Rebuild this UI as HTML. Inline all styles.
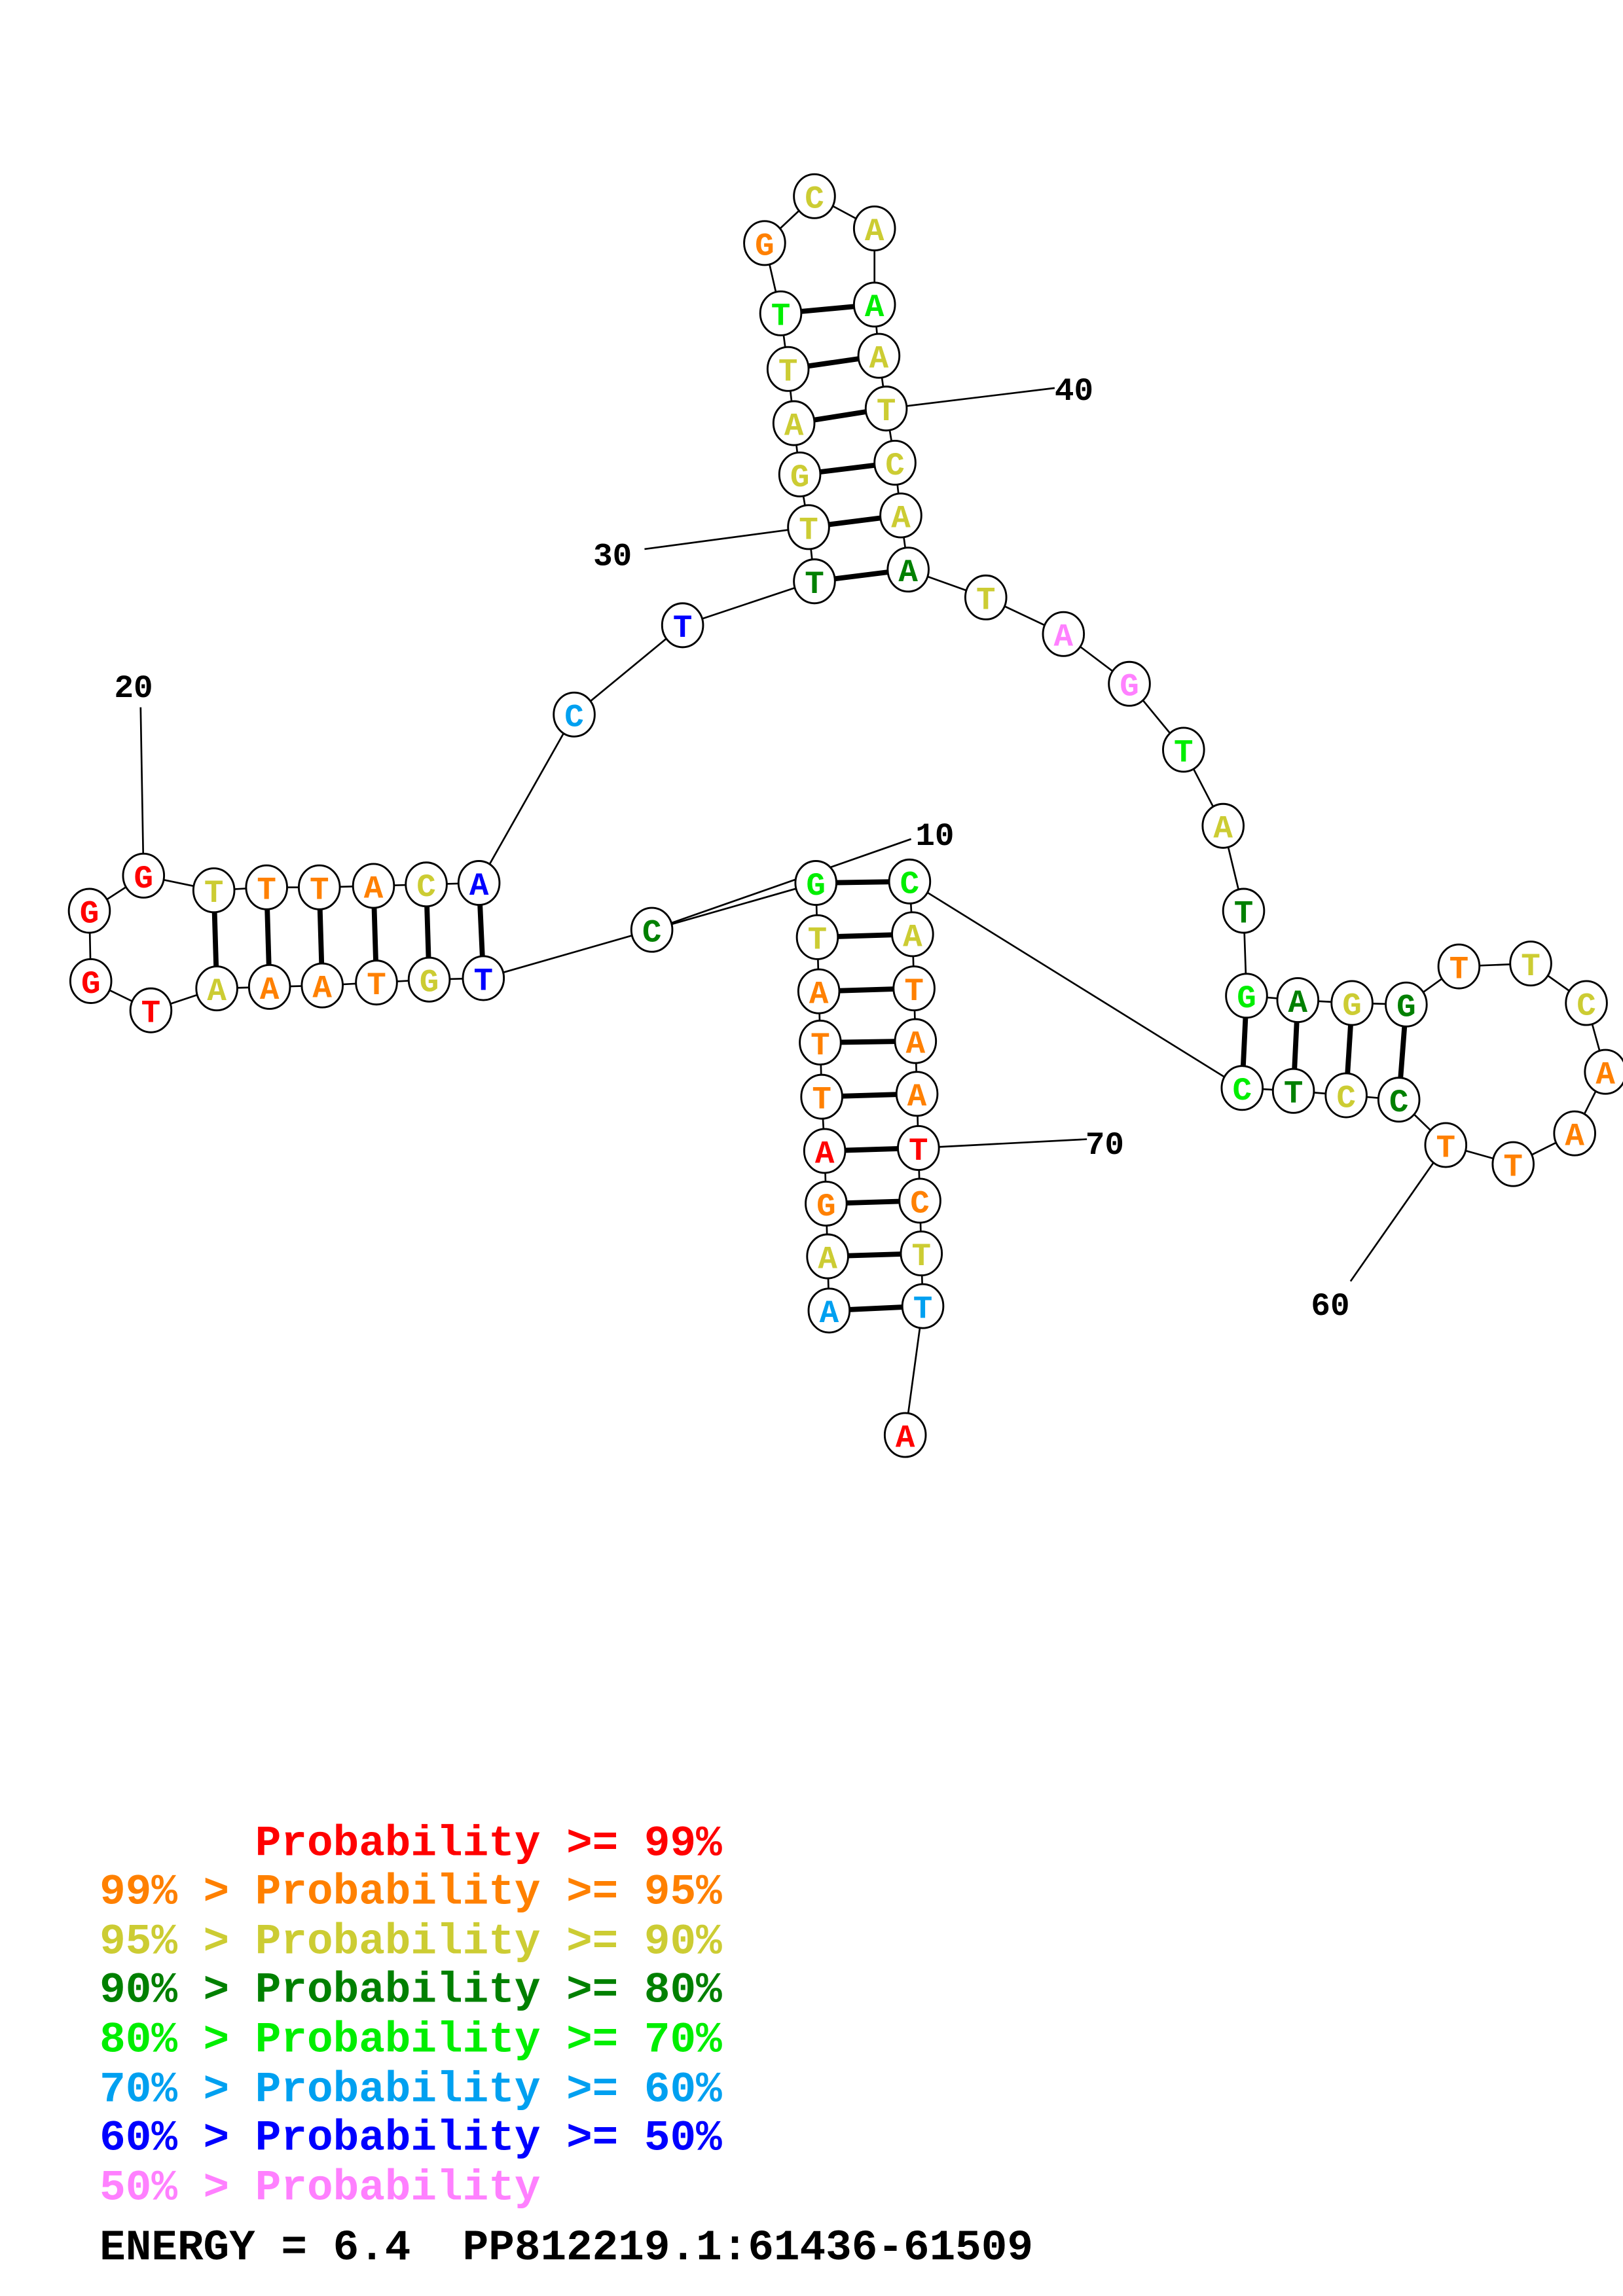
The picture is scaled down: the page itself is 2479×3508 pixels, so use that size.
<!DOCTYPE html>
<html><head><meta charset="utf-8"><style>
html,body{margin:0;padding:0;background:#fff}
svg{display:block}
.n{fill:#fff;stroke:#000;stroke-width:1.3}
.b{font-family:"Liberation Mono",monospace;font-weight:bold;font-size:22px;text-anchor:middle}
.l{font-family:"Liberation Mono",monospace;font-weight:bold;font-size:22px;fill:#000}
.g{font-family:"Liberation Mono",monospace;font-weight:bold;font-size:29.5px;white-space:pre}
</style></head><body>
<svg width="2479" height="3508" viewBox="0 0 1108 1568" preserveAspectRatio="none" xmlns="http://www.w3.org/2000/svg">
<g stroke="#000" fill="none">
<polyline stroke-width="1.2" points="566,895 565,858 564,822 563,786 561,749 560,712 559,677 558,640 557,603 445,635 330,668 293,669 257,671 220,673 184,674 148,675 103,690 62,670 61,622 98,598 146,608 182,606 218,606 255,605 291,604 327,603 392,488 466,427 556,397 552,360 546,324 542,289 538,252 533,214 522,166 556,134 597,156 597,208 600,243 605,279 611,316 615,352 620,389 673,408 726,433 771,467 808,512 835,564 849,622 851,680 886,683 923,685 960,686 996,660 1045,658 1083,685 1096,732 1075,774 1033,795 987,782 955,751 919,748 883,745 848,743 621,602 623,638 624,675 625,711 626,747 627,784 628,820 629,856 630,892 618,980"/>
<g stroke-width="1.2">
<line x1="445" y1="635" x2="622" y2="573"/>
<line x1="96" y1="483" x2="98" y2="598"/>
<line x1="440" y1="375" x2="552" y2="360"/>
<line x1="720" y1="265" x2="605" y2="279"/>
<line x1="922" y1="875" x2="987" y2="782"/>
<line x1="742" y1="778" x2="627" y2="784"/>
</g>
<g stroke-width="3.5">
<line x1="566" y1="895" x2="630" y2="892"/><line x1="565" y1="858" x2="629" y2="856"/><line x1="564" y1="822" x2="628" y2="820"/><line x1="563" y1="786" x2="627" y2="784"/><line x1="561" y1="749" x2="626" y2="747"/><line x1="560" y1="712" x2="625" y2="711"/><line x1="559" y1="677" x2="624" y2="675"/><line x1="558" y1="640" x2="623" y2="638"/><line x1="557" y1="603" x2="621" y2="602"/>
<line x1="330" y1="668" x2="327" y2="603"/><line x1="293" y1="669" x2="291" y2="604"/><line x1="257" y1="671" x2="255" y2="605"/><line x1="220" y1="673" x2="218" y2="606"/><line x1="184" y1="674" x2="182" y2="606"/><line x1="148" y1="675" x2="146" y2="608"/>
<line x1="556" y1="397" x2="620" y2="389"/><line x1="552" y1="360" x2="615" y2="352"/><line x1="546" y1="324" x2="611" y2="316"/><line x1="542" y1="289" x2="605" y2="279"/><line x1="538" y1="252" x2="600" y2="243"/><line x1="533" y1="214" x2="597" y2="208"/>
<line x1="851" y1="680" x2="848" y2="743"/><line x1="886" y1="683" x2="883" y2="745"/><line x1="923" y1="685" x2="919" y2="748"/><line x1="960" y1="686" x2="955" y2="751"/>
</g>
</g>
<g>
<ellipse class="n" cx="566" cy="895" rx="14" ry="15"/><text class="b" x="566" y="903" fill="#00a0f0">A</text>
<ellipse class="n" cx="565" cy="858" rx="14" ry="15"/><text class="b" x="565" y="866" fill="#cccc33">A</text>
<ellipse class="n" cx="564" cy="822" rx="14" ry="15"/><text class="b" x="564" y="830" fill="#ff8000">G</text>
<ellipse class="n" cx="563" cy="786" rx="14" ry="15"/><text class="b" x="563" y="794" fill="#ff0000">A</text>
<ellipse class="n" cx="561" cy="749" rx="14" ry="15"/><text class="b" x="561" y="757" fill="#ff8000">T</text>
<ellipse class="n" cx="560" cy="712" rx="14" ry="15"/><text class="b" x="560" y="720" fill="#ff8000">T</text>
<ellipse class="n" cx="559" cy="677" rx="14" ry="15"/><text class="b" x="559" y="685" fill="#ff8000">A</text>
<ellipse class="n" cx="558" cy="640" rx="14" ry="15"/><text class="b" x="558" y="648" fill="#cccc33">T</text>
<ellipse class="n" cx="557" cy="603" rx="14" ry="15"/><text class="b" x="557" y="611" fill="#00ee00">G</text>
<ellipse class="n" cx="445" cy="635" rx="14" ry="15"/><text class="b" x="445" y="643" fill="#008000">C</text>
<ellipse class="n" cx="330" cy="668" rx="14" ry="15"/><text class="b" x="330" y="676" fill="#0000ff">T</text>
<ellipse class="n" cx="293" cy="669" rx="14" ry="15"/><text class="b" x="293" y="677" fill="#cccc33">G</text>
<ellipse class="n" cx="257" cy="671" rx="14" ry="15"/><text class="b" x="257" y="679" fill="#ff8000">T</text>
<ellipse class="n" cx="220" cy="673" rx="14" ry="15"/><text class="b" x="220" y="681" fill="#ff8000">A</text>
<ellipse class="n" cx="184" cy="674" rx="14" ry="15"/><text class="b" x="184" y="682" fill="#ff8000">A</text>
<ellipse class="n" cx="148" cy="675" rx="14" ry="15"/><text class="b" x="148" y="683" fill="#cccc33">A</text>
<ellipse class="n" cx="103" cy="690" rx="14" ry="15"/><text class="b" x="103" y="698" fill="#ff0000">T</text>
<ellipse class="n" cx="62" cy="670" rx="14" ry="15"/><text class="b" x="62" y="678" fill="#ff0000">G</text>
<ellipse class="n" cx="61" cy="622" rx="14" ry="15"/><text class="b" x="61" y="630" fill="#ff0000">G</text>
<ellipse class="n" cx="98" cy="598" rx="14" ry="15"/><text class="b" x="98" y="606" fill="#ff0000">G</text>
<ellipse class="n" cx="146" cy="608" rx="14" ry="15"/><text class="b" x="146" y="616" fill="#cccc33">T</text>
<ellipse class="n" cx="182" cy="606" rx="14" ry="15"/><text class="b" x="182" y="614" fill="#ff8000">T</text>
<ellipse class="n" cx="218" cy="606" rx="14" ry="15"/><text class="b" x="218" y="614" fill="#ff8000">T</text>
<ellipse class="n" cx="255" cy="605" rx="14" ry="15"/><text class="b" x="255" y="613" fill="#ff8000">A</text>
<ellipse class="n" cx="291" cy="604" rx="14" ry="15"/><text class="b" x="291" y="612" fill="#cccc33">C</text>
<ellipse class="n" cx="327" cy="603" rx="14" ry="15"/><text class="b" x="327" y="611" fill="#0000ff">A</text>
<ellipse class="n" cx="392" cy="488" rx="14" ry="15"/><text class="b" x="392" y="496" fill="#00a0f0">C</text>
<ellipse class="n" cx="466" cy="427" rx="14" ry="15"/><text class="b" x="466" y="435" fill="#0000ff">T</text>
<ellipse class="n" cx="556" cy="397" rx="14" ry="15"/><text class="b" x="556" y="405" fill="#008000">T</text>
<ellipse class="n" cx="552" cy="360" rx="14" ry="15"/><text class="b" x="552" y="368" fill="#cccc33">T</text>
<ellipse class="n" cx="546" cy="324" rx="14" ry="15"/><text class="b" x="546" y="332" fill="#cccc33">G</text>
<ellipse class="n" cx="542" cy="289" rx="14" ry="15"/><text class="b" x="542" y="297" fill="#cccc33">A</text>
<ellipse class="n" cx="538" cy="252" rx="14" ry="15"/><text class="b" x="538" y="260" fill="#cccc33">T</text>
<ellipse class="n" cx="533" cy="214" rx="14" ry="15"/><text class="b" x="533" y="222" fill="#00ee00">T</text>
<ellipse class="n" cx="522" cy="166" rx="14" ry="15"/><text class="b" x="522" y="174" fill="#ff8000">G</text>
<ellipse class="n" cx="556" cy="134" rx="14" ry="15"/><text class="b" x="556" y="142" fill="#cccc33">C</text>
<ellipse class="n" cx="597" cy="156" rx="14" ry="15"/><text class="b" x="597" y="164" fill="#cccc33">A</text>
<ellipse class="n" cx="597" cy="208" rx="14" ry="15"/><text class="b" x="597" y="216" fill="#00ee00">A</text>
<ellipse class="n" cx="600" cy="243" rx="14" ry="15"/><text class="b" x="600" y="251" fill="#cccc33">A</text>
<ellipse class="n" cx="605" cy="279" rx="14" ry="15"/><text class="b" x="605" y="287" fill="#cccc33">T</text>
<ellipse class="n" cx="611" cy="316" rx="14" ry="15"/><text class="b" x="611" y="324" fill="#cccc33">C</text>
<ellipse class="n" cx="615" cy="352" rx="14" ry="15"/><text class="b" x="615" y="360" fill="#cccc33">A</text>
<ellipse class="n" cx="620" cy="389" rx="14" ry="15"/><text class="b" x="620" y="397" fill="#008000">A</text>
<ellipse class="n" cx="673" cy="408" rx="14" ry="15"/><text class="b" x="673" y="416" fill="#cccc33">T</text>
<ellipse class="n" cx="726" cy="433" rx="14" ry="15"/><text class="b" x="726" y="441" fill="#ff80ff">A</text>
<ellipse class="n" cx="771" cy="467" rx="14" ry="15"/><text class="b" x="771" y="475" fill="#ff80ff">G</text>
<ellipse class="n" cx="808" cy="512" rx="14" ry="15"/><text class="b" x="808" y="520" fill="#00ee00">T</text>
<ellipse class="n" cx="835" cy="564" rx="14" ry="15"/><text class="b" x="835" y="572" fill="#cccc33">A</text>
<ellipse class="n" cx="849" cy="622" rx="14" ry="15"/><text class="b" x="849" y="630" fill="#008000">T</text>
<ellipse class="n" cx="851" cy="680" rx="14" ry="15"/><text class="b" x="851" y="688" fill="#00ee00">G</text>
<ellipse class="n" cx="886" cy="683" rx="14" ry="15"/><text class="b" x="886" y="691" fill="#008000">A</text>
<ellipse class="n" cx="923" cy="685" rx="14" ry="15"/><text class="b" x="923" y="693" fill="#cccc33">G</text>
<ellipse class="n" cx="960" cy="686" rx="14" ry="15"/><text class="b" x="960" y="694" fill="#008000">G</text>
<ellipse class="n" cx="996" cy="660" rx="14" ry="15"/><text class="b" x="996" y="668" fill="#ff8000">T</text>
<ellipse class="n" cx="1045" cy="658" rx="14" ry="15"/><text class="b" x="1045" y="666" fill="#cccc33">T</text>
<ellipse class="n" cx="1083" cy="685" rx="14" ry="15"/><text class="b" x="1083" y="693" fill="#cccc33">C</text>
<ellipse class="n" cx="1096" cy="732" rx="14" ry="15"/><text class="b" x="1096" y="740" fill="#ff8000">A</text>
<ellipse class="n" cx="1075" cy="774" rx="14" ry="15"/><text class="b" x="1075" y="782" fill="#ff8000">A</text>
<ellipse class="n" cx="1033" cy="795" rx="14" ry="15"/><text class="b" x="1033" y="803" fill="#ff8000">T</text>
<ellipse class="n" cx="987" cy="782" rx="14" ry="15"/><text class="b" x="987" y="790" fill="#ff8000">T</text>
<ellipse class="n" cx="955" cy="751" rx="14" ry="15"/><text class="b" x="955" y="759" fill="#008000">C</text>
<ellipse class="n" cx="919" cy="748" rx="14" ry="15"/><text class="b" x="919" y="756" fill="#cccc33">C</text>
<ellipse class="n" cx="883" cy="745" rx="14" ry="15"/><text class="b" x="883" y="753" fill="#008000">T</text>
<ellipse class="n" cx="848" cy="743" rx="14" ry="15"/><text class="b" x="848" y="751" fill="#00ee00">C</text>
<ellipse class="n" cx="621" cy="602" rx="14" ry="15"/><text class="b" x="621" y="610" fill="#00ee00">C</text>
<ellipse class="n" cx="623" cy="638" rx="14" ry="15"/><text class="b" x="623" y="646" fill="#cccc33">A</text>
<ellipse class="n" cx="624" cy="675" rx="14" ry="15"/><text class="b" x="624" y="683" fill="#ff8000">T</text>
<ellipse class="n" cx="625" cy="711" rx="14" ry="15"/><text class="b" x="625" y="719" fill="#ff8000">A</text>
<ellipse class="n" cx="626" cy="747" rx="14" ry="15"/><text class="b" x="626" y="755" fill="#ff8000">A</text>
<ellipse class="n" cx="627" cy="784" rx="14" ry="15"/><text class="b" x="627" y="792" fill="#ff0000">T</text>
<ellipse class="n" cx="628" cy="820" rx="14" ry="15"/><text class="b" x="628" y="828" fill="#ff8000">C</text>
<ellipse class="n" cx="629" cy="856" rx="14" ry="15"/><text class="b" x="629" y="864" fill="#cccc33">T</text>
<ellipse class="n" cx="630" cy="892" rx="14" ry="15"/><text class="b" x="630" y="900" fill="#00a0f0">T</text>
<ellipse class="n" cx="618" cy="980" rx="14" ry="15"/><text class="b" x="618" y="988" fill="#ff0000">A</text>
</g>
<text class="l" x="625" y="577">10</text>
<text class="l" x="78" y="476">20</text>
<text class="l" x="405" y="386">30</text>
<text class="l" x="720" y="273">40</text>
<text class="l" x="895" y="898">60</text>
<text class="l" x="741" y="788">70</text>
<text class="g" x="68" y="1267" fill="#ff0000">      Probability &gt;= 99%</text>
<text class="g" x="68" y="1300" fill="#ff8000">99% &gt; Probability &gt;= 95%</text>
<text class="g" x="68" y="1334" fill="#cccc33">95% &gt; Probability &gt;= 90%</text>
<text class="g" x="68" y="1367" fill="#008000">90% &gt; Probability &gt;= 80%</text>
<text class="g" x="68" y="1401" fill="#00ee00">80% &gt; Probability &gt;= 70%</text>
<text class="g" x="68" y="1435" fill="#00a0f0">70% &gt; Probability &gt;= 60%</text>
<text class="g" x="68" y="1468" fill="#0000ff">60% &gt; Probability &gt;= 50%</text>
<text class="g" x="68" y="1502" fill="#ff80ff">50% &gt; Probability</text>
<text class="g" x="68" y="1543" fill="#000">ENERGY = 6.4  PP812219.1:61436-61509</text>
</svg>
</body></html>
